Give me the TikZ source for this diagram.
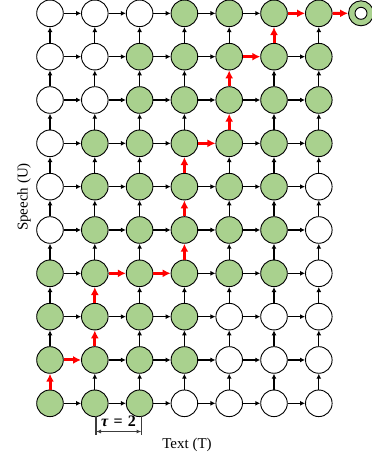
\documentclass[tikz,border=0pt]{standalone}
\usepackage{fontspec}
\setmainfont{Liberation Serif}
\usetikzlibrary{arrows.meta}
\definecolor{lgreen}{RGB}{169,209,142}
\definecolor{dimline}{RGB}{60,60,60}
\makeatletter
\newcommand\RedList{,h0-1,h1-3,h2-3,h3-6,h4-8,h5-9,v0-0,v1-1,v1-2,v3-3,v3-4,v3-5,v4-6,v4-7,v5-8,}
\newcommand\IfRedTF[3]{\edef\my@tmp{\noexpand\in@{,#1,}{\RedList}}\my@tmp\ifin@ #2\else #3\fi}
\makeatother
\tikzset{
  cell/.style={circle, draw=black, line width=0.9pt, minimum size=26.6pt, inner sep=0pt},
  blk/.style={black, line width=1.1pt, -{Latex[length=5pt,width=5pt]}},
  redarr/.style={red, line width=3pt, -{Latex[length=8pt,width=8pt]}},
  dimln/.style={dimline, line width=1.1pt},
  dimarr/.style={dimline, line width=1pt, {Latex[length=5pt,width=4pt]}-{Latex[length=5pt,width=4pt]}},
  lab/.style={font=\fontsize{15}{18}\selectfont, inner sep=0pt}
}
\begin{document}
\begin{tikzpicture}[x=1pt, y=-1pt]
\useasboundingbox (0,0) rectangle (372,458);
% grid of nodes
\foreach \r/\a/\b in {0/0/2,1/0/3,2/0/3,3/0/5,4/1/5,5/1/5,6/1/6,7/2/6,8/2/6,9/3/6}{
  \foreach \c in {0,...,6}{
    \pgfmathtruncatemacro\isg{(\c>=\a)&&(\c<=\b)}
    \ifnum\isg=1 \def\fc{lgreen}\else\def\fc{white}\fi
    \node[cell, fill=\fc] (n\c-\r) at ({50+44.8*\c},{403.3-43.33*\r}) {};
  }
}
% final node
\node[cell, fill=lgreen, minimum size=25pt] (fin) at (361,13.3) {};
\node[cell, fill=white, minimum size=12pt] (finin) at (fin.center) {};
% horizontal connectors
\foreach \r in {0,...,9}{
  \foreach \c [count=\d] in {0,...,5}{
    \IfRedTF{h\c-\r}{\draw[redarr] (n\c-\r) -- (n\d-\r);}{\draw[blk] (n\c-\r) -- (n\d-\r);}
  }
}
% vertical connectors
\foreach \c in {0,...,6}{
  \foreach \r [count=\s] in {0,...,8}{
    \IfRedTF{v\c-\r}{\draw[redarr] (n\c-\r) -- (n\c-\s);}{\draw[blk] (n\c-\r) -- (n\c-\s);}
  }
}
\draw[redarr] (n6-9) -- (fin);
% tau marker
\coordinate (ta) at (96,416);
\coordinate (tb) at (96,435);
\coordinate (tc) at (141.5,416);
\coordinate (td) at (141.5,435);
\coordinate (te) at (96,431.5);
\coordinate (tf) at (141.5,431.5);
\draw[dimln] (ta) -- (tb);
\draw[dimln] (tc) -- (td);
\draw[dimarr] (te) -- (tf);
\node[inner sep=0pt, font=\fontsize{16}{18}\selectfont\bfseries] (tau) at (118.5,421.5) {\textit{τ}\hspace{5pt}=\hspace{5pt}2};
% axis labels
\node[lab, rotate=90] (ylab) at (24,197) {Speech (U)};
\node[lab] (xlab) at (187,445) {Text (T)};
\end{tikzpicture}
\end{document}
